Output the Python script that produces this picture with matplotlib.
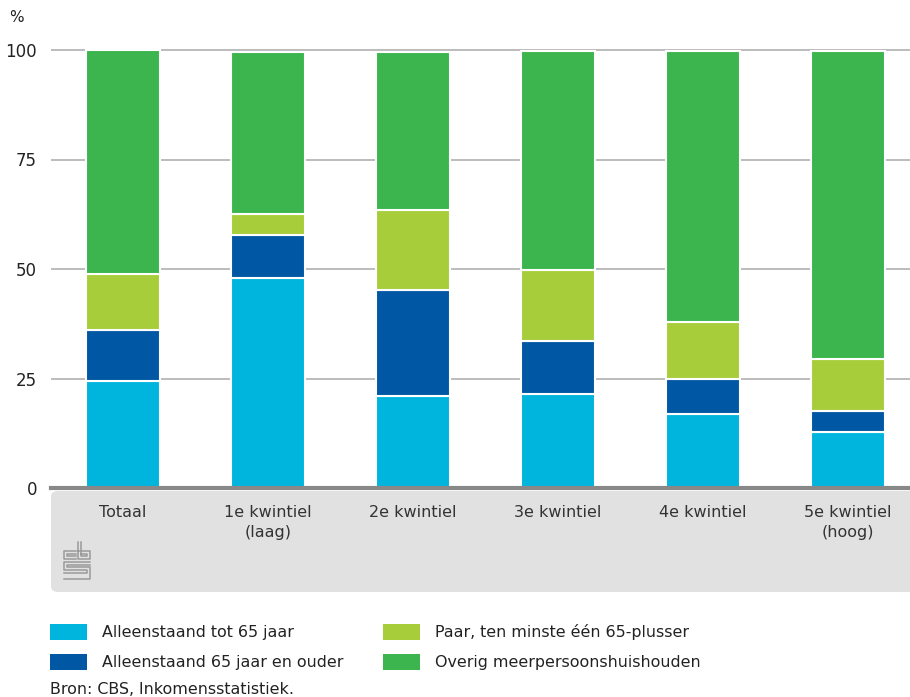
import matplotlib
import matplotlib.pyplot as plt
from matplotlib.patches import FancyBboxPatch, Rectangle
import numpy as np

matplotlib.rcParams['font.family'] = ['DejaVu Sans']

categories = ["Totaal", "1e kwintiel\n(laag)", "2e kwintiel", "3e kwintiel",
              "4e kwintiel", "5e kwintiel\n(hoog)"]
alleen_tot65 = [24.4, 47.9, 21.0, 21.5, 16.9, 12.8]
alleen_65plus = [11.7, 9.9, 24.2, 12.1, 8.0, 4.8]
paar_65plus = [12.8, 4.8, 18.3, 16.2, 13.0, 11.9]
overig = [51.1, 36.9, 36.0, 50.0, 61.9, 70.3]

series = [
    ("Alleenstaand tot 65 jaar", alleen_tot65, "#00b5dd"),
    ("Alleenstaand 65 jaar en ouder", alleen_65plus, "#0058a4"),
    ("Paar, ten minste één 65-plusser", paar_65plus, "#a8cd3a"),
    ("Overig meerpersoonshuishouden", overig, "#3cb54e"),
]

W, H = 910, 697
fig = plt.figure(figsize=(W / 100, H / 100), dpi=100)

def fx(px):
    return px / W

def fy(py):
    return 1 - py / H

# gray label band under the axis
band = FancyBboxPatch((fx(51), fy(592)), fx(910) - fx(51) + 0.02, fy(491) - fy(592),
                      boxstyle="round,pad=0,rounding_size=0.008",
                      transform=fig.transFigure, facecolor="#e1e1e1",
                      edgecolor="none", zorder=-1)
fig.patches.append(band)

ax = fig.add_axes([fx(51), fy(488), fx(910) - fx(51), fy(45) - fy(488)])
ax.set_facecolor("none")
x = np.arange(len(categories))
ax.set_xlim(-0.497, 5.43)
ax.set_ylim(0, 100 * 443 / 438)

for v in [25, 50, 75, 100]:
    ax.axhline(v, color="#b0b0b0", lw=1.2, zorder=1)

bottom = np.zeros(len(categories))
for name, vals, col in series:
    ax.bar(x, vals, width=0.51, bottom=bottom, color=col, edgecolor="white",
           linewidth=1.5, zorder=2, label=name)
    bottom += np.array(vals)

ax.axhline(0, color="#888888", lw=3, zorder=3, clip_on=False)

for s in ax.spines.values():
    s.set_visible(False)
ax.set_yticks([0, 25, 50, 75, 100])
ax.tick_params(axis="y", length=0, pad=10, labelsize=12, labelcolor="#222222")
ax.set_xticks([])

for xi, lab in zip(x, categories):
    ax.text(xi, -3.8, lab, ha="center", va="top", fontsize=11.5,
            color="#333333", linespacing=1.45,
            transform=ax.transData, clip_on=False)

fig.text(fx(9), fy(18), "%", fontsize=11, color="#222222", va="center")

# simplified logo
lg = fig.add_axes([fx(63), fy(580), fx(28), fy(541) - fy(580)])
lg.set_xlim(0, 10)
lg.set_ylim(0, 14)
lg.axis("off")
lc = "#9a9a9a"
lw = 1.1
lg.plot([4.5, 0.5, 0.5, 4.5], [10.5, 10.5, 7.5, 7.5], color=lc, lw=lw)
lg.plot([4.5, 1.5, 1.5, 4.5], [9.5, 9.5, 8.5, 8.5], color=lc, lw=lw)
lg.plot([5.5, 5.5, 9.5, 9.5, 5.5], [13.5, 7.5, 7.5, 10.5, 10.5], color=lc, lw=lw)
lg.plot([6.5, 6.5, 8.5, 8.5, 6.5], [13.5, 8.5, 8.5, 9.5, 9.5], color=lc, lw=lw)
lg.plot([9.5, 0.5, 0.5, 8.5, 8.5, 0.5], [6.5, 6.5, 3.5, 3.5, 2.5, 2.5], color=lc, lw=lw)
lg.plot([9.5, 1.5, 1.5, 9.5, 9.5, 0.5], [5.5, 5.5, 4.5, 4.5, 0.5, 0.5], color=lc, lw=lw)

# legend
legend_pos = [(50, 632), (50, 662), (383, 632), (383, 662)]
for (px, py), (name, vals, col) in zip(legend_pos, series):
    fig.patches.append(Rectangle((fx(px), fy(py + 8)), fx(37), fy(py - 8) - fy(py + 8),
                                 transform=fig.transFigure, facecolor=col,
                                 edgecolor="none"))
    fig.text(fx(px + 52), fy(py), name, fontsize=11.4, color="#222222", va="center")

fig.text(fx(50), fy(689), "Bron: CBS, Inkomensstatistiek.", fontsize=11.4,
         color="#222222", va="center")

fig.savefig("out.png", dpi=100)
